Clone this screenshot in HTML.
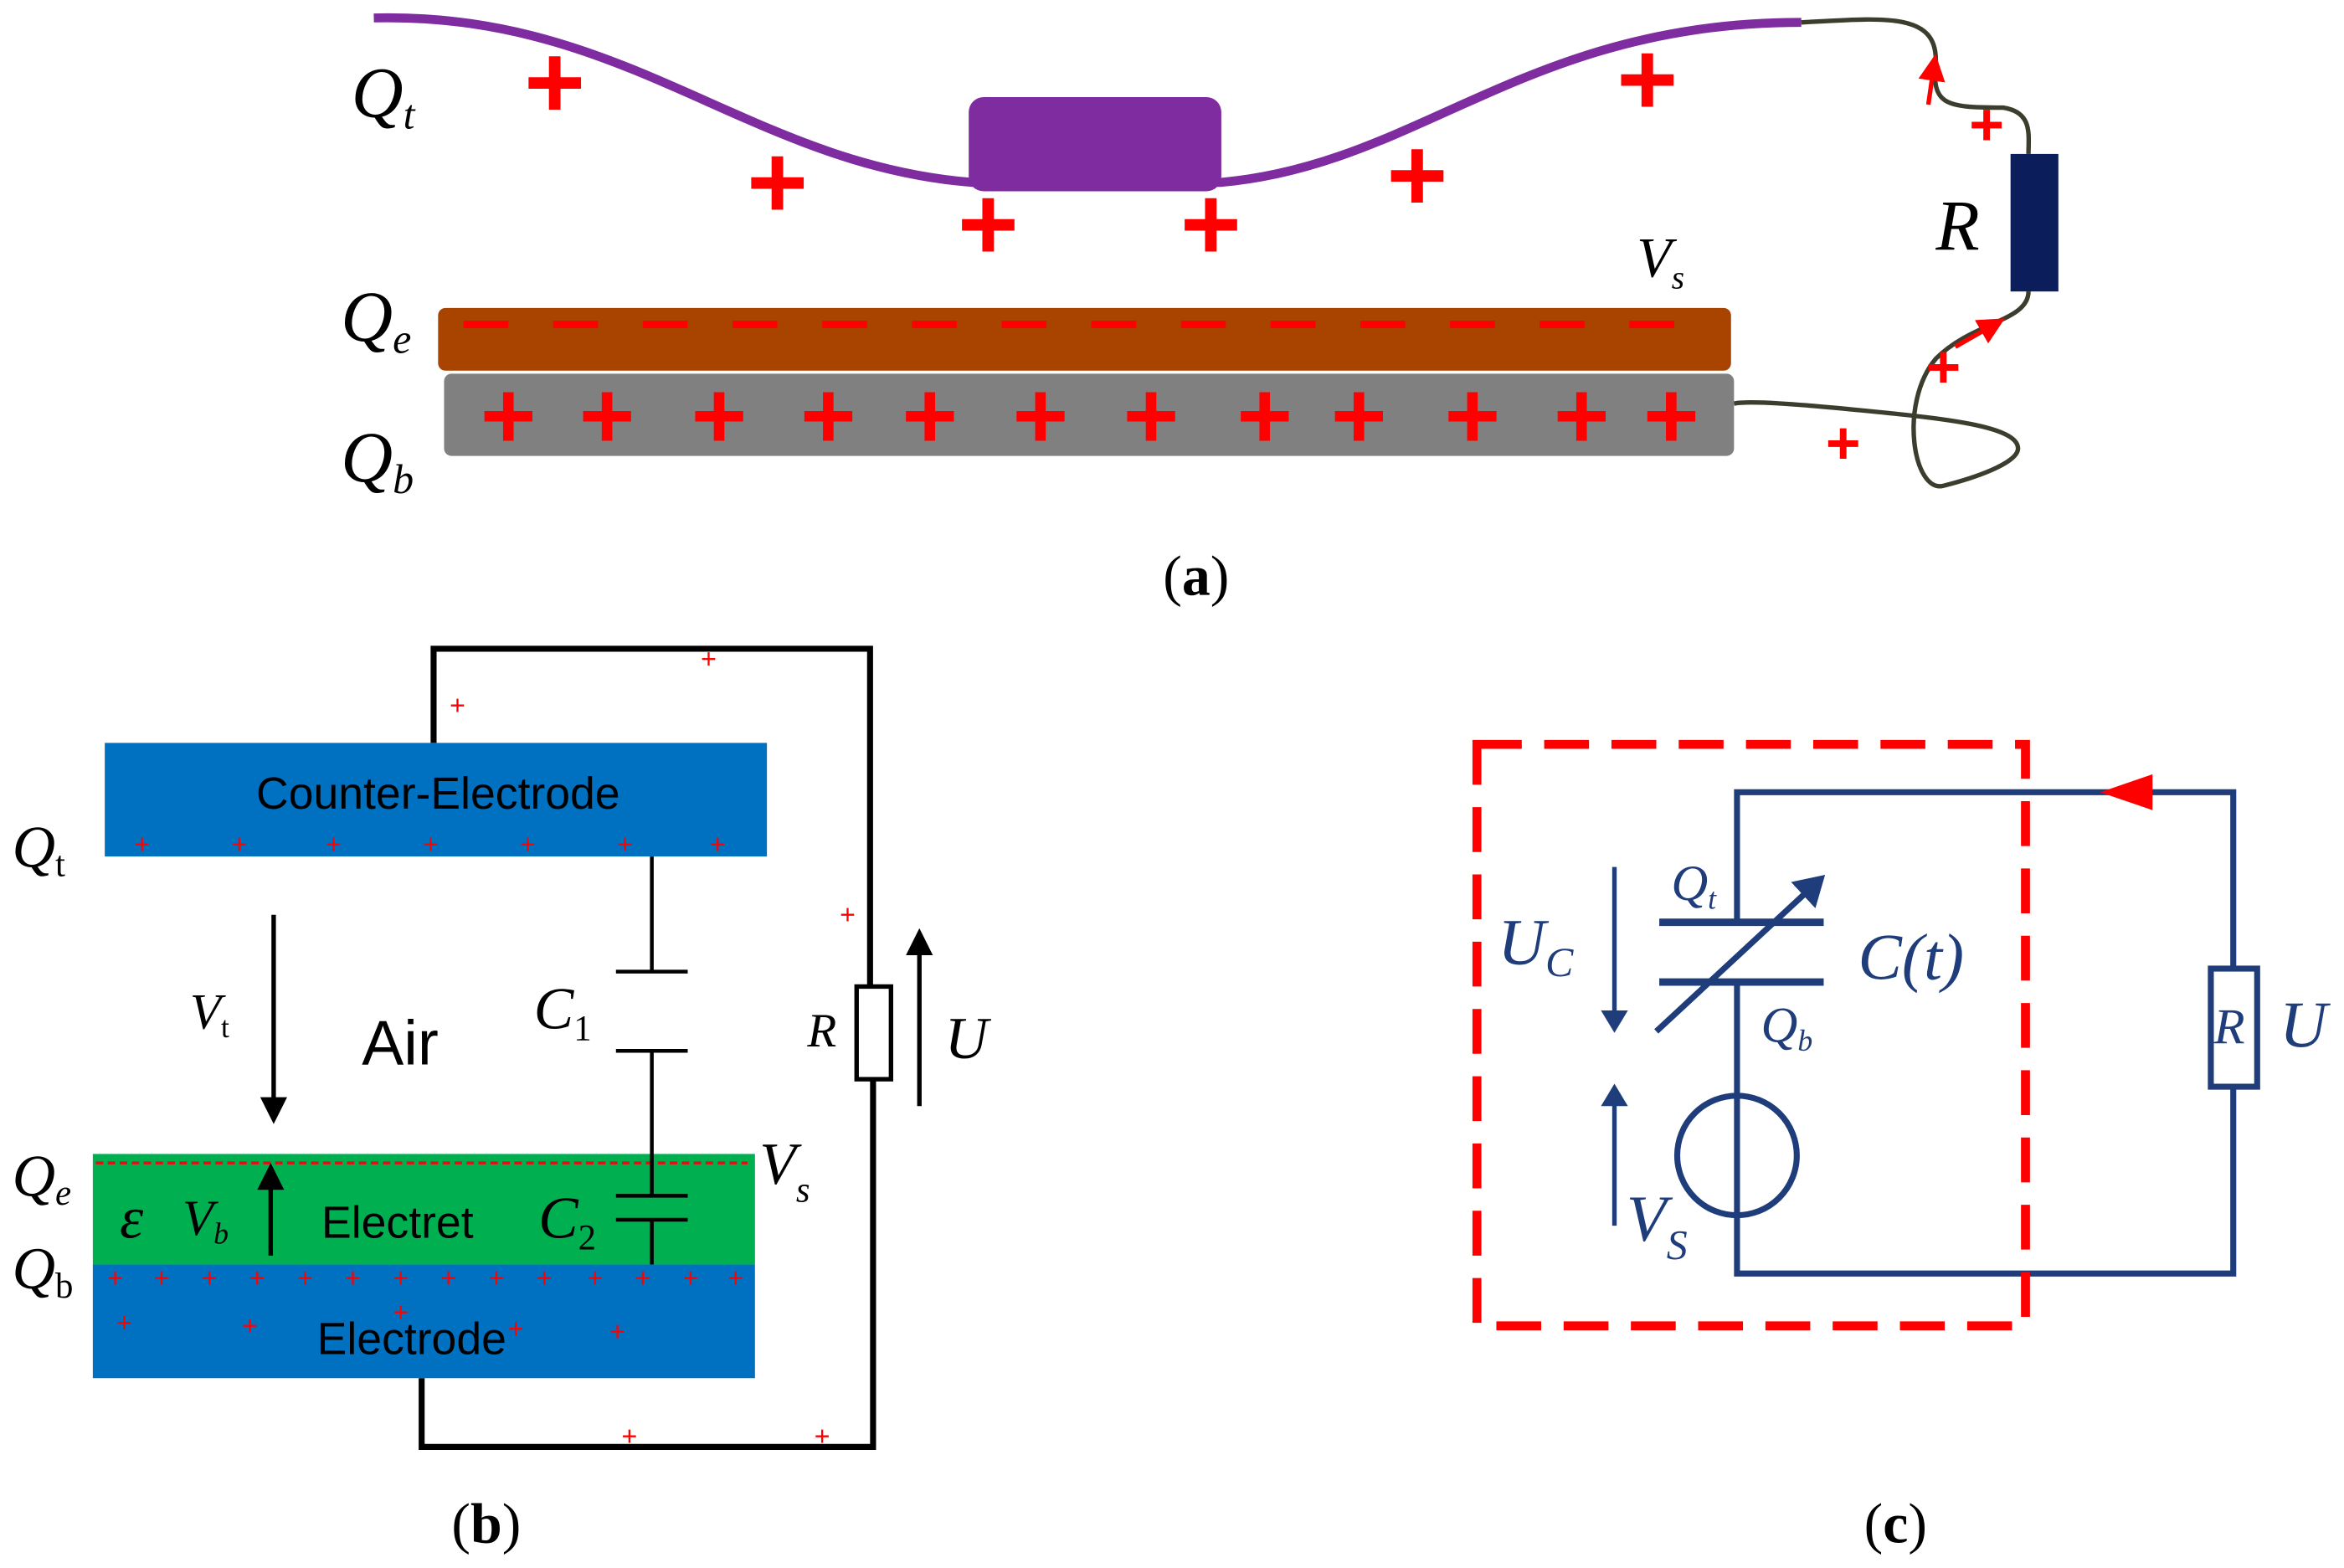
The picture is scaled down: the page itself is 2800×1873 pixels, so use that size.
<!DOCTYPE html>
<html><head><meta charset="utf-8"><style>
html,body{margin:0;padding:0;background:#fff;width:2800px;height:1873px;overflow:hidden}
svg{display:block}
.it{font-family:"Liberation Serif",serif;font-style:italic}
.sn{font-family:"Liberation Sans","DejaVu Sans",sans-serif}
.rm{font-family:"Liberation Serif",serif}
</style></head><body>
<svg width="2800" height="1873" viewBox="0 0 1568 1049" xmlns="http://www.w3.org/2000/svg">
<defs>
<marker id="ab" markerWidth="6" markerHeight="6" refX="4" refY="3" orient="auto" markerUnits="strokeWidth"><path d="M0,0 L6,3 L0,6 z" fill="#000"/></marker>
<marker id="an" markerWidth="5" markerHeight="6" refX="4" refY="3" orient="auto" markerUnits="strokeWidth"><path d="M0,0 L5,3 L0,6 z" fill="#1f3d7a"/></marker>
<marker id="ar" markerWidth="6" markerHeight="6" refX="4" refY="3" orient="auto" markerUnits="strokeWidth"><path d="M0,0 L6,3 L0,6 z" fill="#f00"/></marker>
</defs>
<!-- (a) -->
<path d="M250,12 C420,8 500,110 650,122 L817,122 C950,110 1020,15 1205,15" fill="none" stroke="#7f2ca0" stroke-width="6"/>
<rect x="648" y="65" width="169" height="63" rx="10" fill="#7f2ca0"/>
<path d="M1205,15 C1260,12 1295,8 1295,40 C1292,70 1300,72 1340,72 C1360,75 1357,90 1357,103" fill="none" stroke="#3d3d2d" stroke-width="3"/>
<path d="M1357,195 C1357,215 1320,215 1295,240 C1270,270 1280,330 1300,325 C1320,320 1350,310 1350,300 C1350,285 1300,280 1250,275 C1200,270 1170,268 1160,270" fill="none" stroke="#3d3d2d" stroke-width="3"/>
<path d="M1290,70 L1294,42" stroke="#f00" stroke-width="3" marker-end="url(#ar)"/>
<path d="M1308,232 L1336,216" stroke="#f00" stroke-width="3" marker-end="url(#ar)"/>
<rect x="1345" y="103" width="32" height="92" fill="#0b1e5b"/>
<rect x="293" y="206" width="865" height="42" rx="5" fill="#a84300"/>
<rect x="297" y="250" width="863" height="55" rx="5" fill="#808080"/>
<path d="M310,217 H1135" stroke="#f00" stroke-width="5" stroke-dasharray="30,30"/>
<g fill="#f00" font-family="Liberation Sans,sans-serif" font-weight="bold" text-anchor="middle">
<g font-size="70"><text x="371" y="79">+</text><text x="520" y="146">+</text><text x="661" y="174">+</text><text x="810" y="174">+</text><text x="948" y="141">+</text><text x="1102" y="77">+</text></g>
<g font-size="64"><text x="340" y="300">+</text><text x="406" y="300">+</text><text x="481" y="300">+</text><text x="554" y="300">+</text><text x="622" y="300">+</text><text x="696" y="300">+</text><text x="770" y="300">+</text><text x="846" y="300">+</text><text x="909" y="300">+</text><text x="985" y="300">+</text><text x="1058" y="300">+</text><text x="1118" y="300">+</text></g>
<g font-size="40"><text x="1329" y="97">+</text><text x="1300" y="259">+</text><text x="1233" y="310">+</text></g>
</g>
<g class="it" font-size="48"><text x="235" y="78">Q<tspan font-size="28" dy="8">t</tspan></text><text x="228" y="228">Q<tspan font-size="28" dy="8">e</tspan></text><text x="228" y="322">Q<tspan font-size="28" dy="8">b</tspan></text><text x="1295" y="167">R</text></g>
<text class="it" x="1095" y="185" font-size="38">V<tspan font-size="22" dy="8">s</tspan></text>
<text class="rm" x="778" y="398" font-size="38">(<tspan font-weight="bold">a</tspan>)</text>
<!-- (b) -->
<path d="M290,497 V434 H582 V660 M584,722 V968 H282 V922" fill="none" stroke="#000" stroke-width="4"/>
<rect x="573" y="660" width="23" height="62" fill="#fff" stroke="#000" stroke-width="3"/>
<rect x="70" y="497" width="443" height="76" fill="#0070c0"/>
<text class="sn" x="293" y="541" font-size="30" text-anchor="middle">Counter-Electrode</text>
<rect x="62" y="772" width="443" height="74" fill="#00b050"/>
<rect x="62" y="846" width="443" height="76" fill="#0070c0"/>
<path d="M64,778 H500" stroke="#e01010" stroke-width="2" stroke-dasharray="5,3"/>
<g stroke="#000" stroke-width="2.5" fill="none"><path d="M436,573 V650 M412,650 H460 M412,703 H460 M436,703 V800 M412,800 H460 M412,816 H460 M436,816 V846"/></g>
<path d="M183,612 V746" stroke="#000" stroke-width="3" marker-end="url(#ab)"/>
<path d="M181,840 V784" stroke="#000" stroke-width="3" marker-end="url(#ab)"/>
<path d="M615,740 V627" stroke="#000" stroke-width="3" marker-end="url(#ab)"/>
<g fill="#f00" font-family="Liberation Sans,sans-serif" text-anchor="middle" font-size="18">
<text x="95" y="571">+</text><text x="160" y="571">+</text><text x="223" y="571">+</text><text x="288" y="571">+</text><text x="353" y="571">+</text><text x="418" y="571">+</text><text x="480" y="571">+</text>
<text x="306" y="478">+</text><text x="474" y="447">+</text><text x="567" y="618">+</text><text x="421" y="967">+</text><text x="550" y="967">+</text>
<text x="77" y="861">+</text><text x="108" y="861">+</text><text x="140" y="861">+</text><text x="172" y="861">+</text><text x="204" y="861">+</text><text x="236" y="861">+</text><text x="268" y="861">+</text><text x="300" y="861">+</text><text x="332" y="861">+</text><text x="364" y="861">+</text><text x="398" y="861">+</text><text x="430" y="861">+</text><text x="462" y="861">+</text><text x="492" y="861">+</text>
<text x="83" y="891">+</text><text x="167" y="893">+</text><text x="268" y="884">+</text><text x="345" y="895">+</text><text x="413" y="897">+</text>
</g>
<text class="sn" x="242" y="712" font-size="42">Air</text>
<text class="sn" x="215" y="828" font-size="30">Electret</text>
<text class="sn" x="212" y="906" font-size="30">Electrode</text>
<g class="it" font-size="40"><text x="8" y="580">Q<tspan font-size="24" dy="6" font-style="normal">t</tspan></text><text x="8" y="800">Q<tspan font-size="24" dy="6">e</tspan></text><text x="8" y="862">Q<tspan font-size="24" dy="6" font-style="normal">b</tspan></text>
<text x="357" y="688">C<tspan font-size="24" dy="8" font-style="normal">1</tspan></text><text x="360" y="828">C<tspan font-size="24" dy="8" font-style="normal">2</tspan></text>
<text x="508" y="792">V<tspan font-size="24" dy="12">s</tspan></text><text x="632" y="708">U</text><text x="540" y="700" font-size="32">R</text>
<text x="80" y="828">ε</text><text x="122" y="826" font-size="34">V<tspan font-size="20" dy="6">b</tspan></text><text x="127" y="688" font-size="34">V<tspan font-size="20" dy="6" font-style="normal">t</tspan></text></g>
<text class="rm" x="302" y="1032" font-size="38">(<tspan font-weight="bold">b</tspan>)</text>
<!-- (c) -->
<path d="M1162,617 V530 H1494 V648 M1494,727 V852 H1162 V657" fill="none" stroke="#1f3d7a" stroke-width="4"/>
<rect x="1479" y="648" width="31" height="79" fill="#fff" stroke="#1f3d7a" stroke-width="4"/>
<path d="M1110,617 H1220 M1110,657 H1220" stroke="#1f3d7a" stroke-width="5"/>
<circle cx="1162" cy="773" r="40" fill="none" stroke="#1f3d7a" stroke-width="4"/>
<path d="M1108,690 L1218,588" stroke="#1f3d7a" stroke-width="4" marker-end="url(#an)"/>
<path d="M1080,580 V688" stroke="#1f3d7a" stroke-width="3" marker-end="url(#an)"/>
<path d="M1080,820 V728" stroke="#1f3d7a" stroke-width="3" marker-end="url(#an)"/>
<path d="M1405,530 L1440,518 L1440,542 z" fill="#f00"/>
<rect x="988" y="498" width="367" height="389" fill="none" stroke="#f00" stroke-width="6" stroke-dasharray="30,15"/>
<g class="it" font-size="44" fill="#1f3d7a"><text x="1002" y="645">U<tspan font-size="28" dy="8">C</tspan></text><text x="1243" y="655">C(t)</text><text x="1525" y="700">U</text><text x="1481" y="698" font-size="34">R</text>
<text x="1088" y="830">V<tspan font-size="28" dy="12">S</tspan></text><text x="1118" y="602" font-size="34">Q<tspan font-size="20" dy="6">t</tspan></text><text x="1178" y="697" font-size="34">Q<tspan font-size="20" dy="6">b</tspan></text></g>
<text class="rm" x="1247" y="1032" font-size="38">(<tspan font-weight="bold">c</tspan>)</text>
</svg>
</body></html>
